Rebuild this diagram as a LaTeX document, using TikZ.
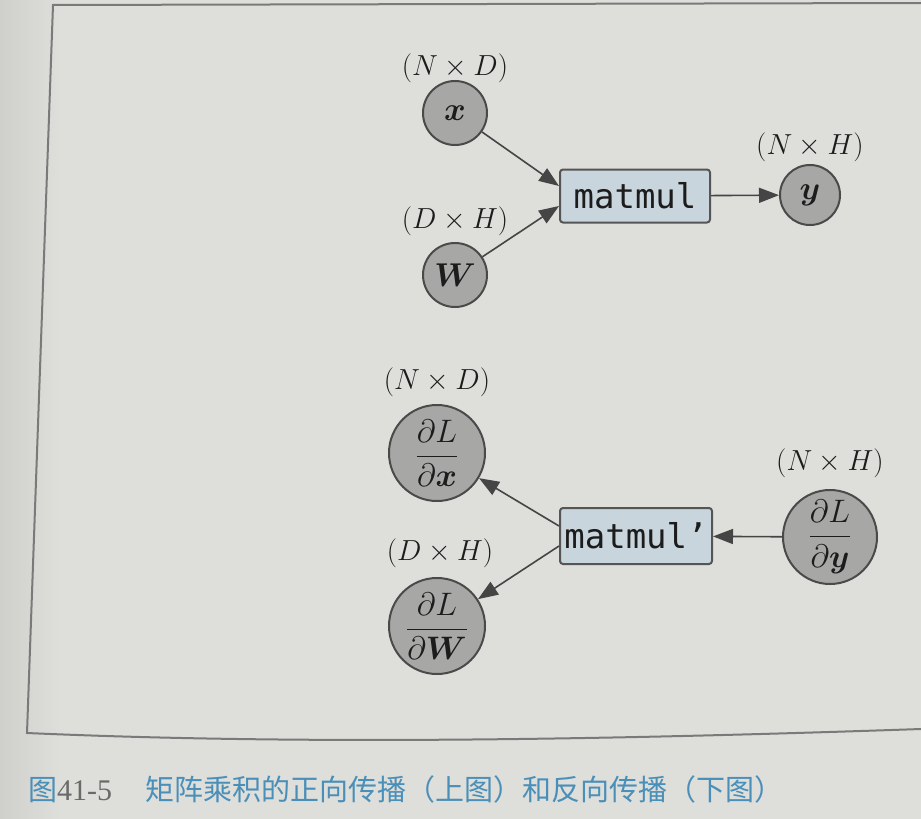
\RequirePackage{fix-cm}
\documentclass[tikz,border=0pt]{standalone}
\usepackage{amsmath,bm}
\usepackage{fontspec}
\setmonofont{DejaVu Sans Mono}
\newfontfamily\cjk{Noto Sans CJK SC}
\newfontfamily\capdigits{Liberation Serif}
\usetikzlibrary{arrows.meta}
\definecolor{paper}{HTML}{DEDEDB}
\definecolor{paperdark}{HTML}{CFCFCC}
\definecolor{framecol}{HTML}{7A7A7A}
\definecolor{circfill}{HTML}{A7A7A6}
\definecolor{circdraw}{HTML}{4A4A4A}
\definecolor{boxfill}{HTML}{C8D5DD}
\definecolor{boxdraw}{HTML}{555555}
\definecolor{arrcol}{HTML}{454545}
\definecolor{inkcol}{HTML}{1C1C1C}
\definecolor{capblue}{HTML}{4A8FB8}
\definecolor{capgray}{HTML}{6A6A6A}
\tikzset{
  varcirc/.style={circle, fill=circfill, draw=circdraw, line width=2pt,
    minimum size=64pt, inner sep=0pt, text=inkcol,
    font=\fontsize{33}{40}\selectfont},
  gradcirc/.style={varcirc, minimum size=96pt, font=\fontsize{32.5}{39}\selectfont},
  fnbox/.style={rectangle, rounded corners=3pt, fill=boxfill, draw=boxdraw,
    line width=2pt, minimum width=150pt, minimum height=53pt, inner sep=2pt,
    text=inkcol, font=\fontsize{34}{40}\selectfont\ttfamily},
  dimlab/.style={text=inkcol, inner sep=0pt, font=\fontsize{29}{35}\selectfont},
  arr/.style={draw=arrcol, line width=1.6pt,
    -{Triangle[length=20pt,width=15pt]}, fill=arrcol},
  framed/.style={draw=framecol, line width=2pt},
}
\begin{document}
\begin{tikzpicture}[x=1pt,y=-1pt]
\useasboundingbox (0,0) rectangle (921,819);
% paper
\fill[paper] (0,0) rectangle (921,819);
\shade[left color=paperdark, right color=paper] (0,0) rectangle (60,819);
% frame
\draw[framed] (921,3) -- (53,5) -- (27,733)
  .. controls (300,745) and (600,740) .. (921,729);

% forward graph
\node[varcirc] (x) at (455,113) {$\bm{x}$};
\node[dimlab] (lx) at (455,68) {$(N\times D)$};
\node[varcirc] (W) at (455,275) {$\bm{W}$};
\node[dimlab] (lW) at (455,221) {$(D\times H)$};
\node[fnbox] (mm) at (635,196) {matmul};
\node[varcirc, minimum size=60pt] (y) at (810,195) {$\bm{y}$};
\node[dimlab] (ly) at (810,147) {$(N\times H)$};

\draw[arr] (x) -- ([yshift=10pt]mm.west);
\draw[arr] (W) -- ([yshift=-10pt]mm.west);
\draw[arr] (mm) -- (y);

% backward graph
\node[gradcirc] (gx) at (437,453) {$\dfrac{\partial L}{\partial\bm{x}}$};
\node[dimlab] (lgx) at (437,382) {$(N\times D)$};
\node[gradcirc] (gW) at (437,626) {$\dfrac{\partial L}{\partial\bm{W}}$};
\node[dimlab] (lgW) at (440,553) {$(D\times H)$};
\node[fnbox, minimum width=152pt, minimum height=56pt] (mm2) at (636,536) {matmul’};
\node[gradcirc, minimum size=94pt] (gy) at (830,537) {$\dfrac{\partial L}{\partial\bm{y}}$};
\node[dimlab] (lgy) at (830,463) {$(N\times H)$};

\draw[arr] (gy) -- (mm2);
\draw[arr] ([yshift=10pt]mm2.west) -- (gx);
\draw[arr] ([yshift=-10pt]mm2.west) -- (gW);

% caption
\node[anchor=base west, inner sep=0pt, text=capblue,
  font=\fontsize{29}{35}\cjk] (cap) at (28,800)
  {图{\capdigits\fontsize{30}{36}\selectfont\color{capgray}41-5}\hspace{33pt}矩阵乘积的正向传播（上图）和反向传播（下图）};
\end{tikzpicture}
\end{document}
